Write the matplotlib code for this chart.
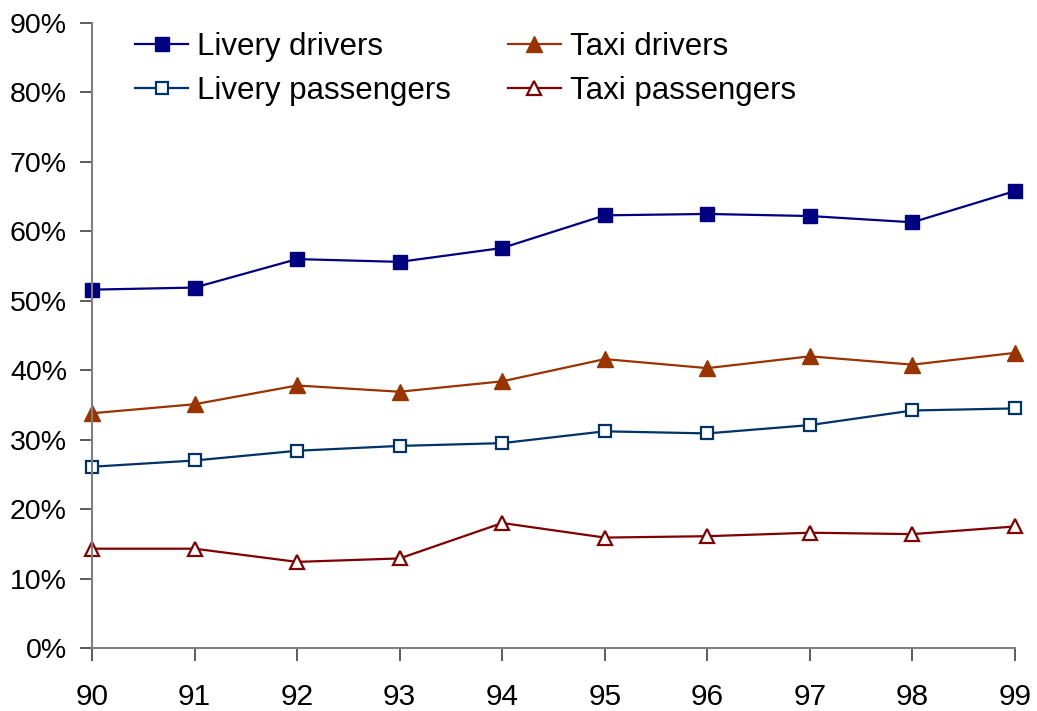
import matplotlib
matplotlib.use("Agg")
import matplotlib.pyplot as plt
from matplotlib.ticker import PercentFormatter

plt.rcParams["font.family"] = ["Liberation Sans", "DejaVu Sans"]

years = [90, 91, 92, 93, 94, 95, 96, 97, 98, 99]
livery_drivers = [51.6, 51.9, 56.0, 55.6, 57.6, 62.3, 62.5, 62.2, 61.3, 65.8]
taxi_drivers = [33.8, 35.1, 37.8, 36.9, 38.4, 41.6, 40.3, 42.0, 40.8, 42.5]
livery_passengers = [26.1, 27.0, 28.4, 29.1, 29.5, 31.2, 30.9, 32.1, 34.2, 34.5]
taxi_passengers = [14.3, 14.3, 12.4, 12.9, 18.0, 15.9, 16.1, 16.6, 16.4, 17.5]

fig = plt.figure(figsize=(10.37, 7.11), dpi=100)
ax = fig.add_axes([0.0887, 0.0886, 0.8901, 0.8791])

# column-major legend fill: drivers on the first row, passengers on the second
ax.plot(years, livery_drivers, color="#000080", lw=1.6, marker="s", ms=10,
        mfc="#000080", mec="#000080", label="Livery drivers", clip_on=False)
ax.plot(years, livery_passengers, color="#003366", lw=1.6, marker="s", ms=9,
        mfc="white", mec="#003366", mew=1.6, label="Livery passengers",
        clip_on=False)
ax.plot(years, taxi_drivers, color="#993300", lw=1.6, marker="^", ms=11,
        mfc="#993300", mec="#993300", label="Taxi drivers", clip_on=False)
ax.plot(years, taxi_passengers, color="#800000", lw=1.6, marker="^", ms=10,
        mfc="white", mec="#800000", mew=1.6, label="Taxi passengers",
        clip_on=False)

ax.set_xlim(90, 99)
ax.set_ylim(0, 90)
ax.set_xticks(years)
ax.set_yticks(range(0, 91, 10))
ax.yaxis.set_major_formatter(PercentFormatter(decimals=0))

for side in ("top", "right"):
    ax.spines[side].set_visible(False)
for side in ("left", "bottom"):
    ax.spines[side].set_color("#808080")
    ax.spines[side].set_linewidth(1.5)
ax.tick_params(axis="both", direction="out", length=9, width=1.2,
               color="#404040", labelcolor="black")
ax.tick_params(axis="x", pad=16, labelsize=21.5)
ax.tick_params(axis="y", pad=9, labelsize=20.5)

ax.legend(loc="upper left", bbox_to_anchor=(0.033, 1.005), borderaxespad=0,
          ncol=2, frameon=False, fontsize=22.5, handlelength=1.7,
          handletextpad=0.3, columnspacing=1.8, labelspacing=0.45)

fig.savefig("out.png", dpi=100)
